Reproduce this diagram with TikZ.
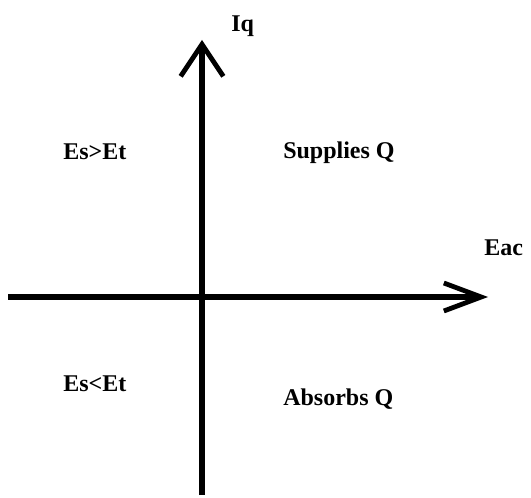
\documentclass[tikz,border=0pt]{standalone}
\usepackage{fontspec}
\setmainfont{Liberation Serif}
\usetikzlibrary{arrows.meta}

\begin{document}
\begin{tikzpicture}[x=0.75pt,y=-0.75pt,
    axis/.style={line width=3.8pt},
    lbl/.style={anchor=base west,inner sep=0pt,font=\bfseries\fontsize{18}{21}\selectfont}]
    \useasboundingbox (0,0) rectangle (531,498);
    % axes
    \coordinate (west) at (8,297);
    \coordinate (east) at (488,297);
    \coordinate (south) at (202,495);
    \coordinate (north) at (202,40);
    \draw[axis,-{Straight Barb[length=28pt,width=21pt,line width=3.6pt]}] (west) -- (east);
    \draw[axis,-{Straight Barb[length=24pt,width=32pt,line width=3.6pt]}] (south) -- (north);
    % axis labels
    \node[lbl] (iq) at (231,32) {Iq};
    \node[lbl] (eac) at (484,256) {Eac};
    % quadrant labels
    \node[lbl] (above) at (63,160) {Es>Et};
    \node[lbl] (supplies) at (283,159) {Supplies Q};
    \node[lbl] (below) at (63,391) {Es<Et};
    \node[lbl] (absorbs) at (283,405) {Absorbs Q};
\end{tikzpicture}
\end{document}
